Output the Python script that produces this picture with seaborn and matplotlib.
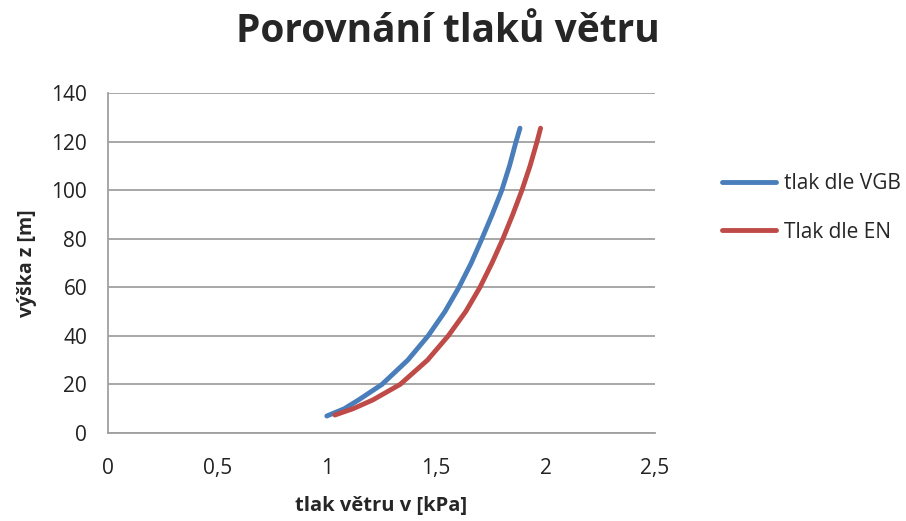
import numpy as np
import pandas as pd
import matplotlib
matplotlib.use('Agg')
import matplotlib.pyplot as plt
import seaborn as sns

# data
vgb_tlak = [1.000, 1.080, 1.145, 1.252, 1.370, 1.463, 1.540, 1.604, 1.660,
            1.709, 1.756, 1.800, 1.835, 1.865, 1.883]
vgb_vyska = [7.0, 10, 13.6, 20, 30, 40, 50, 60, 70, 80, 90, 100, 110, 120, 125.5]
en_tlak = [1.037, 1.120, 1.210, 1.335, 1.460, 1.555, 1.635, 1.700, 1.755,
           1.805, 1.850, 1.892, 1.929, 1.961, 1.977]
en_vyska = [7.4, 10, 13.6, 20, 30, 40, 50, 60, 70, 80, 90, 100, 110, 120, 125.5]

x_ticks = [0, 0.5, 1, 1.5, 2, 2.5]
x_labels = ['0', '0,5', '1', '1,5', '2', '2,5']
y_ticks = [0, 20, 40, 60, 80, 100, 120, 140]

df = pd.concat([
    pd.DataFrame({'tlak': vgb_tlak, 'vyska': vgb_vyska, 'serie': 'tlak dle VGB'}),
    pd.DataFrame({'tlak': en_tlak, 'vyska': en_vyska, 'serie': 'Tlak dle EN'}),
])

sns.set_theme(style='white')
plt.rcParams['font.family'] = ['Open Sans', 'DejaVu Sans']

fig = plt.figure(figsize=(9.06, 5.21), dpi=100)
ax = fig.add_axes([108 / 906, 1 - 433 / 521, 547 / 906, 340 / 521])

sns.lineplot(data=df, x='tlak', y='vyska', hue='serie', sort=False,
             palette=['#4A7EBB', '#BE4B48'], linewidth=3.5, ax=ax,
             solid_capstyle='round', solid_joinstyle='round')

ax.set_xlim(0, 2.5)
ax.set_ylim(0, 140)
ax.set_xticks(x_ticks)
ax.set_xticklabels(x_labels)
ax.set_yticks(y_ticks)
ax.tick_params(axis='both', labelsize=15, colors='#222222', length=0)
ax.tick_params(axis='x', pad=18)
ax.tick_params(axis='y', pad=15)
ax.grid(axis='y', color='#A0A0A0', linewidth=1.3)
for s in ['top', 'right']:
    ax.spines[s].set_visible(False)
for s in ['left', 'bottom']:
    ax.spines[s].set_color('#A0A0A0')
    ax.spines[s].set_linewidth(1.3)

ax.set_xlabel('tlak větru v [kPa]', fontsize=14.5, fontweight='bold', labelpad=12)
ax.set_ylabel('výška z [m]', fontsize=14, fontweight='bold', labelpad=10)
fig.suptitle('Porovnání tlaků větru', fontsize=28, fontweight='bold', x=448 / 906, y=1 - 12 / 521, va='top')

ax.legend(loc='center left', bbox_to_anchor=(703 / 906, 313 / 521), bbox_transform=fig.transFigure,
          frameon=False, fontsize=15, handlelength=2.6, labelspacing=1.3, handletextpad=0.4)

fig.savefig('out.png', dpi=100)
